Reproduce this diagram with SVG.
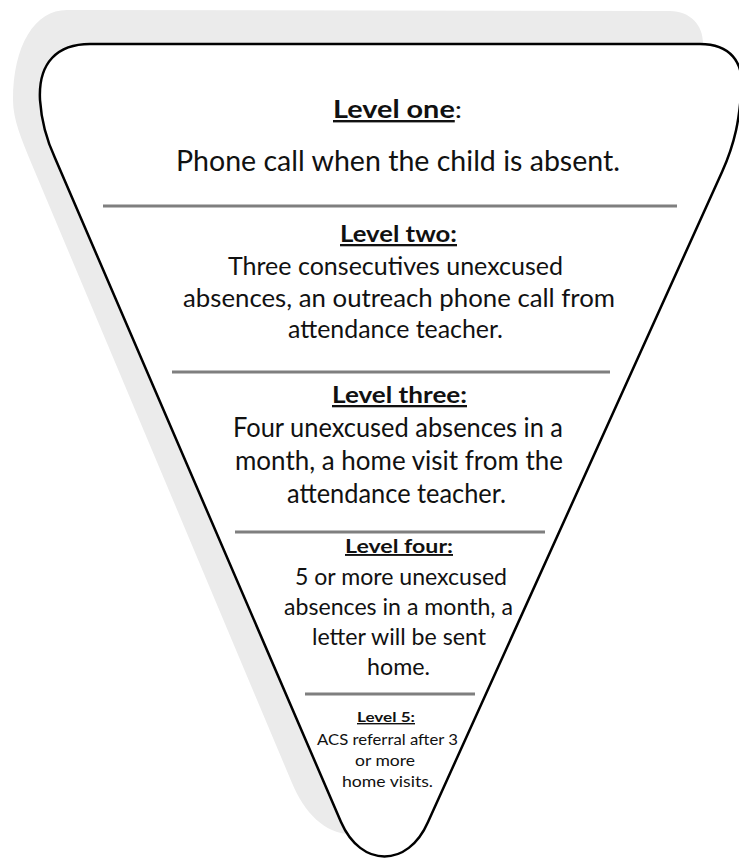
<svg xmlns="http://www.w3.org/2000/svg" width="739" height="858" viewBox="0 0 739 858">
<style>
text{font-family:Lato,"Open Sans","Liberation Sans",sans-serif;fill:#111;text-anchor:middle}
.t{font-weight:bold;text-decoration:underline}
.div{stroke:#7f7f7f;stroke-width:3;fill:none}
</style>
<rect width="739" height="858" fill="#fff"/>
<g id="shadow">
<path d="M67,10 L670,11 C690,11 703,25 703,43 L700,100 L400,800 L350,834 C325,834 304,812 292,783 L30,160 C22,140 13,120 13,100 C13,45 35,10 67,10 Z" fill="#ebebeb"/>
</g>
<g id="funnel">
<path d="M90,44 L700,44 C728,44 746,60 741,95 C739,118 736,141 722,172 L428,822 C408,868 361,868 341,822 L55,158 Q42,130 40,100 C38,62 58,44 90,44 Z" fill="#fff" stroke="#000" stroke-width="2.5" stroke-linejoin="round"/>
</g>
<g id="dividers">
<line class="div" x1="103" y1="206" x2="677" y2="206"/>
<line class="div" x1="172" y1="372" x2="610" y2="372"/>
<line class="div" x1="235" y1="532" x2="545" y2="532"/>
<line class="div" x1="305" y1="694" x2="475" y2="694"/>
</g>
<g id="level1">
<text x="397.5" y="118" font-size="24" textLength="129" lengthAdjust="spacingAndGlyphs"><tspan font-weight="bold" text-decoration="underline">Level one</tspan>:</text>
<text x="398" y="171" font-size="28" textLength="444" lengthAdjust="spacingAndGlyphs">Phone call when the child is absent.</text>
</g>
<g id="level2">
<text class="t" x="398.5" y="242" font-size="23" textLength="117" lengthAdjust="spacingAndGlyphs">Level two:</text>
<text x="395.5" y="275" font-size="25" textLength="335" lengthAdjust="spacingAndGlyphs">Three consecutives unexcused</text>
<text x="399" y="307" font-size="25" textLength="432" lengthAdjust="spacingAndGlyphs">absences, an outreach phone call from</text>
<text x="395.5" y="338" font-size="25" textLength="215" lengthAdjust="spacingAndGlyphs">attendance teacher.</text>
</g>
<g id="level3">
<text class="t" x="399.5" y="403" font-size="23" textLength="135" lengthAdjust="spacingAndGlyphs">Level three:</text>
<text x="398" y="437" font-size="26" textLength="330" lengthAdjust="spacingAndGlyphs">Four unexcused absences in a</text>
<text x="399" y="470" font-size="26" textLength="328" lengthAdjust="spacingAndGlyphs">month, a home visit from the</text>
<text x="396.5" y="503" font-size="26" textLength="219" lengthAdjust="spacingAndGlyphs">attendance teacher.</text>
</g>
<g id="level4">
<text class="t" x="399" y="553" font-size="19" textLength="108" lengthAdjust="spacingAndGlyphs">Level four:</text>
<text x="401" y="585" font-size="23" textLength="212" lengthAdjust="spacingAndGlyphs">5 or more unexcused</text>
<text x="398.5" y="615" font-size="23" textLength="229" lengthAdjust="spacingAndGlyphs">absences in a month, a</text>
<text x="399" y="645" font-size="23" textLength="174" lengthAdjust="spacingAndGlyphs">letter will be sent</text>
<text x="398.5" y="675" font-size="23" textLength="63" lengthAdjust="spacingAndGlyphs">home.</text>
</g>
<g id="level5">
<text class="t" x="386" y="722" font-size="14" textLength="58" lengthAdjust="spacingAndGlyphs">Level 5:</text>
<text x="387.5" y="745" font-size="16" textLength="141" lengthAdjust="spacingAndGlyphs">ACS referral after 3</text>
<text x="385" y="766" font-size="16" textLength="60" lengthAdjust="spacingAndGlyphs">or more</text>
<text x="387.5" y="787" font-size="16" textLength="91" lengthAdjust="spacingAndGlyphs">home visits.</text>
</g>
</svg>
